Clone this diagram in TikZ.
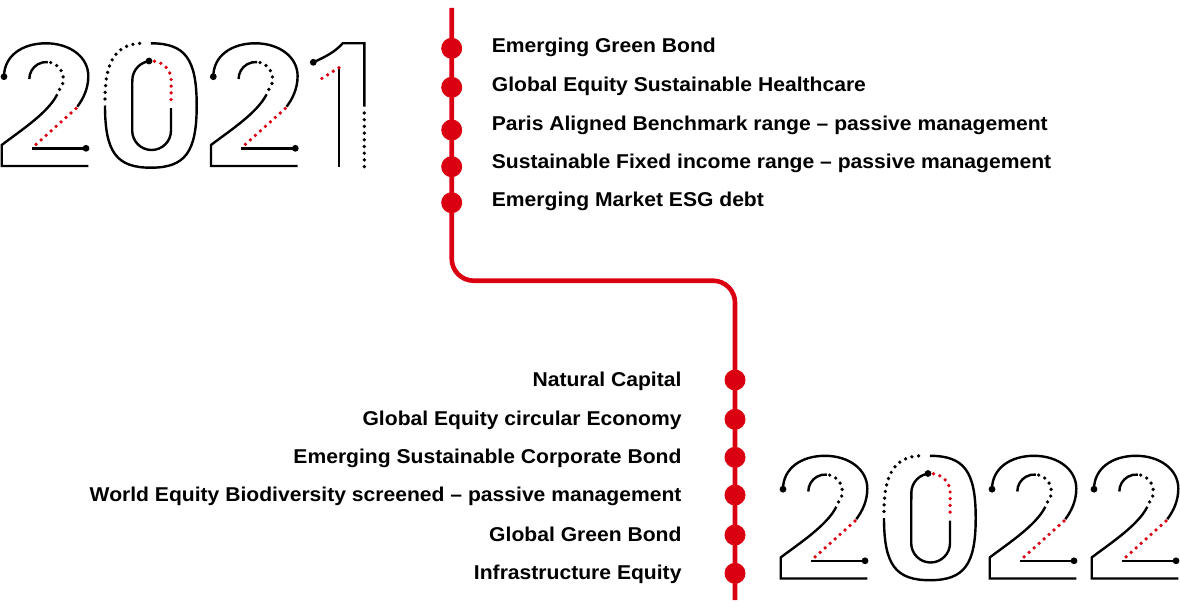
\documentclass[tikz,border=0pt]{standalone}
\usepackage{fontspec}
\setsansfont{Liberation Sans}[FakeStretch=1.055]
\usepackage{tikz}
\usetikzlibrary{positioning}
\definecolor{hsbcred}{RGB}{219,0,17}

\begin{document}
\begin{tikzpicture}[
        x=1pt, y=-1pt,
        font=\fontsize{20}{24}\selectfont\sffamily\bfseries,
        stroke/.style={
            draw=black,
            line width=2.4pt
        },
        blackdots/.style={
            draw=black,
            line width=3.7pt,
            line cap=round,
            dash pattern=on 0pt off 6.7pt
        },
        reddots/.style={
            blackdots,
            draw=hsbcred
        },
        stop/.style={
            circle,
            fill=hsbcred,
            inner sep=0pt,
            minimum size=21pt
        },
        itemleft/.style={
            anchor=base west,
            inner sep=0pt
        },
        itemright/.style={
            anchor=base east,
            inner sep=0pt
        },
        timeline/.style={
            draw=hsbcred,
            line width=4.6pt,
            rounded corners=22pt
        },
        two/.pic={
            % bowl
            \draw[stroke] (4,76.7) .. controls (4,56) and (22,43.3) .. (46,43.3)
                .. controls (70,43.3) and (88.3,57) .. (88.3,76)
                .. controls (88.3,89) and (83,99) .. (77.3,106.7);
            \draw[stroke] (29.3,79) arc (180:275:17);
            \draw[blackdots] (50.7,62.6) arc (285:412:17);
            % diagonal and base
            \draw[reddots] (76,108.5) -- (31.7,148.3);
            \draw[stroke] (31.7,148.3) -- (86,148.3);
            \draw[stroke] (57.3,94.3) .. controls (48,113) and (20,131) .. (1.7,145)
                -- (1.7,166) -- (88.3,166);
            \fill (4,76.7) circle (3.4);
            \fill (86,148.3) circle (3.4);
        },
        zero/.pic={
            % outer ring
            \draw[stroke] (150.8,43.3) .. controls (185.2,43.3) and (196.7,58.8) .. (196.7,105.5)
                .. controls (196.7,152.2) and (185.2,167.7) .. (150.8,167.7)
                .. controls (116.4,167.7) and (105,152.2) .. (105,105.5);
            \draw[blackdots] (105,99) .. controls (105,60) and (117,43.3) .. (143,43.3);
            % inner ring
            \draw[stroke] (171,108) -- (171,130.6) arc (0:180:19.4)
                -- (132.3,80.4) arc (180:270:19.4);
            \draw[reddots] (154.5,61.2) arc (278:360:19.4) -- (171,106);
            \fill (149,61) circle (3.4);
        }
    ]

    \useasboundingbox (0,0) rectangle (1180,610);

    % Year 2021
    \pic at (0,0) {two};
    \pic at (0,0) {zero};
    \pic at (209.3,0) {two};
    \draw[stroke] (313.3,62.3) .. controls (325,57) and (335,52) .. (342.7,43.3)
        -- (364.3,43.3) -- (364.3,106.7);
    \draw[blackdots] (364.3,113) -- (364.3,167.7);
    \draw[stroke] (339,166.5) -- (339,67.7);
    \draw[reddots] (339,67.7) -- (316.7,81.7);
    \fill (313.3,62.3) circle (3.4);

    % Year 2022
    \pic at (779,412.5) {two};
    \pic at (779,412.5) {zero};
    \pic at (988,412.5) {two};
    \pic at (1090,412.5) {two};

    % Timeline
    \coordinate (lineTop) at (451.7,8);
    \coordinate (lineTurn) at (735,280.7);
    \coordinate (lineEnd) at (735,600);
    \draw[timeline] (lineTop) |- (lineTurn) -- (lineEnd);

    % Stops 2021
    \node [stop] (a1) at (451.7,48.3) {};
    \node [stop] (a2) at (451.7,87.3) {};
    \node [stop] (a3) at (451.7,130) {};
    \node [stop] (a4) at (451.7,166.7) {};
    \node [stop] (a5) at (451.7,202.7) {};

    \node [itemleft] (fund1) at (491.7,52.7) {Emerging Green Bond};
    \node [itemleft] (fund2) at (491.7,91.7) {Global Equity Sustainable Healthcare};
    \node [itemleft] (fund3) at (491.7,130) {Paris Aligned Benchmark range – passive management};
    \node [itemleft] (fund4) at (491.7,168.3) {Sustainable Fixed income range – passive management};
    \node [itemleft] (fund5) at (491.7,206) {Emerging Market ESG debt};

    % Stops 2022
    \node [stop] (b1) at (735,380) {};
    \node [stop] (b2) at (735,419.3) {};
    \node [stop] (b3) at (735,457.3) {};
    \node [stop] (b4) at (735,495) {};
    \node [stop] (b5) at (735,535) {};
    \node [stop] (b6) at (735,573.3) {};

    \node [itemright] (fund6) at (681.7,386.7) {Natural Capital};
    \node [itemright] (fund7) at (681.7,425) {Global Equity circular Economy};
    \node [itemright] (fund8) at (681.7,463.3) {Emerging Sustainable Corporate Bond};
    \node [itemright] (fund9) at (681.7,501.7) {World Equity Biodiversity screened – passive management};
    \node [itemright] (fund10) at (681.7,541) {Global Green Bond};
    \node [itemright] (fund11) at (681.7,579.3) {Infrastructure Equity};

\end{tikzpicture}
\end{document}
